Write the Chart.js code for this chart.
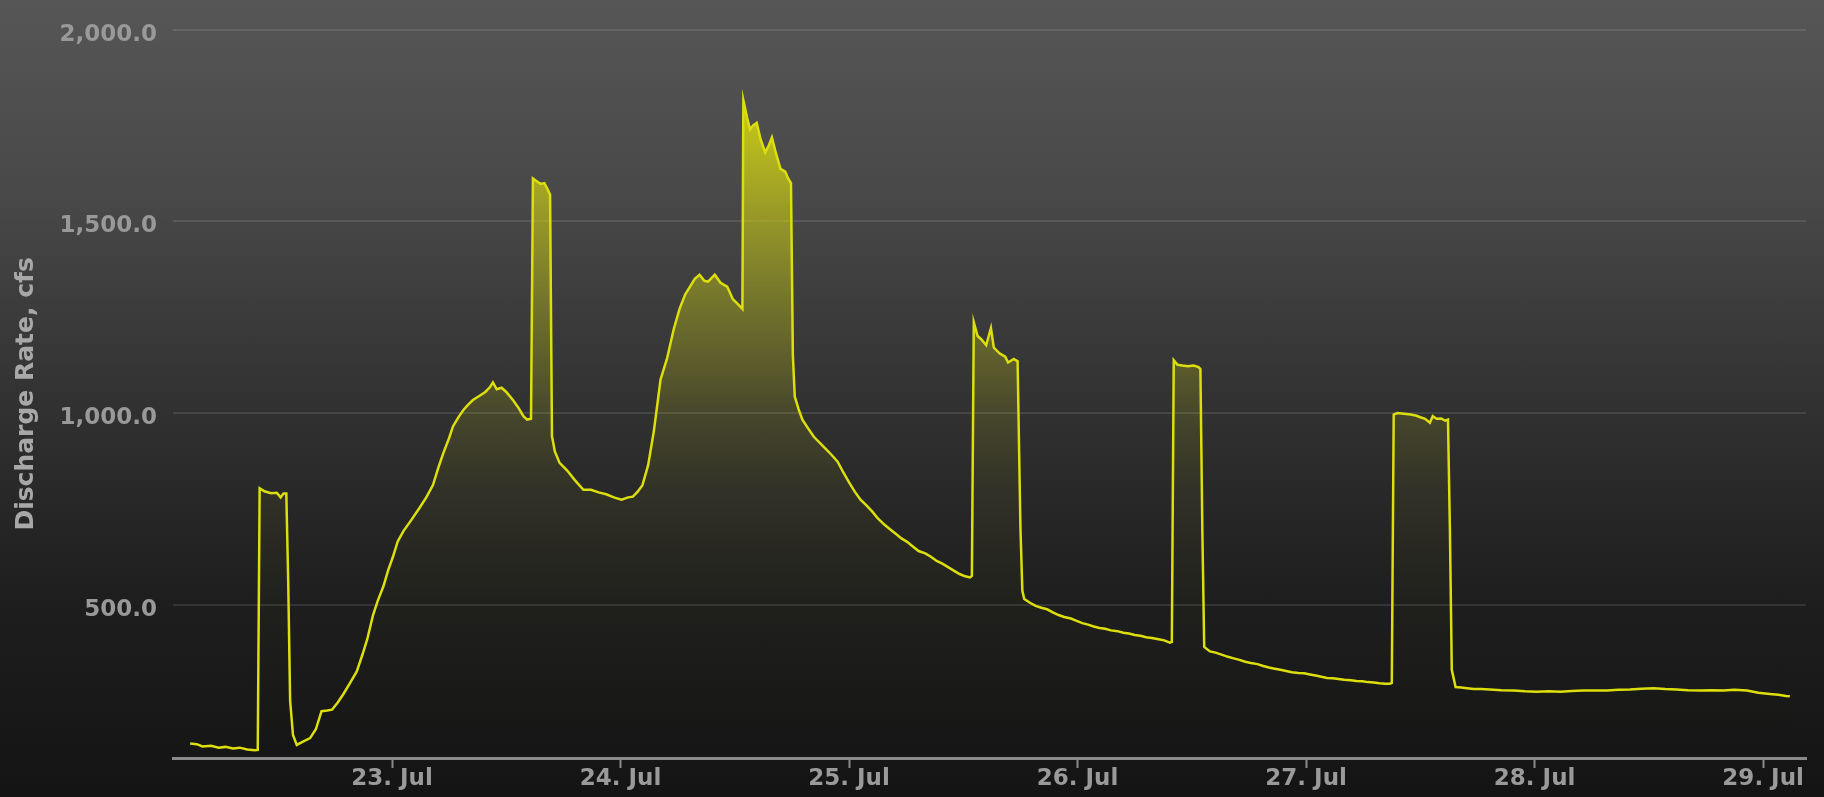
<!DOCTYPE html>
<html>
<head>
<meta charset="utf-8">
<script src="https://cdn.jsdelivr.net/npm/chart.js@4.4.1/dist/chart.umd.min.js"></script>
<style>
  html, body { margin: 0; padding: 0; }
  #wrap {
    width: 1824px; height: 797px; position: relative;
    background: linear-gradient(to bottom, rgb(86,86,86) 0%, rgb(72,72,72) 25%, rgb(50,50,50) 50%, rgb(30,30,30) 75%, rgb(20,20,20) 100%);
  }
</style>
</head>
<body>
<div id="wrap"><canvas id="chart"></canvas></div>
<script>
// hours since 22 Jul 00:00
const hours = [
  2.8, 3.5, 4.1, 5.0, 5.8, 6.5, 7.3, 8.0, 8.8, 9.6, 9.9, 10.1, 10.6, 11.3, 11.9, 12.3, 12.6, 12.9, 13.1, 13.3,
  13.6, 14.0, 14.6, 15.4, 16.0, 16.6, 17.2, 17.7, 18.3, 18.9, 19.6, 20.3, 20.9, 21.4, 22.0, 22.5, 23.1, 23.6, 24.1, 24.6,
  25.2, 26.0, 26.9, 27.6, 28.3, 28.9, 29.4, 30.0, 30.4, 31.0, 31.5, 32.0, 32.5, 33.2, 33.8, 34.3, 34.6, 35.0, 35.5, 36.0,
  36.7, 37.3, 37.8, 38.2, 38.6, 38.8, 39.2, 39.6, 40.0, 40.3, 40.6, 40.8, 41.1, 41.6, 42.4, 43.2, 44.1, 44.9, 45.7, 46.5,
  47.3, 48.1, 48.8, 49.3, 49.8, 50.3, 50.9, 51.5, 52.2, 52.9, 53.6, 54.2, 54.8, 55.3, 55.8, 56.3, 56.8, 57.2, 57.9, 58.5,
  59.2, 59.8, 60.3, 60.8, 60.9, 61.3, 61.6, 61.9, 62.3, 62.7, 63.2, 63.6, 63.9, 64.3, 64.8, 65.3, 65.6, 65.9, 66.1, 66.3,
  66.7, 67.1, 67.7, 68.3, 69.5, 70.2, 70.8, 71.4, 72.0, 72.6, 73.2, 73.8, 74.4, 75.0, 75.7, 76.3, 76.9, 77.5, 78.1, 78.7,
  79.3, 80.0, 80.6, 81.2, 81.8, 82.4, 83.0, 83.6, 84.2, 84.7, 84.9, 85.1, 85.5, 85.9, 86.4, 86.9, 87.2, 87.8, 88.4, 88.7,
  89.3, 89.7, 90.0, 90.2, 90.4, 91.0, 91.6, 92.2, 92.8, 93.4, 94.0, 94.6, 95.3, 95.9, 96.5, 97.1, 97.7, 98.3, 98.9, 99.5,
  100.2, 100.8, 101.4, 102.0, 102.6, 103.2, 103.8, 104.5, 105.1, 105.7, 105.9, 106.1, 106.5, 107.0, 107.6, 108.2, 108.7, 108.9, 109.1, 109.3,
  109.9, 110.5, 111.2, 111.8, 112.4, 113.0, 113.6, 114.2, 114.9, 115.5, 116.1, 116.7, 117.3, 117.9, 118.5, 119.2, 119.8, 120.4, 121.0, 121.6,
  122.2, 122.8, 123.4, 124.0, 124.7, 125.3, 125.9, 126.5, 127.1, 127.7, 128.3, 128.8, 129.0, 129.2, 129.6, 130.3, 131.0, 131.6, 132.0, 132.5,
  133.0, 133.3, 133.7, 134.2, 134.6, 134.9, 135.1, 135.3, 135.7, 136.3, 136.9, 137.6, 138.4, 139.3, 140.5, 141.8, 143.0, 144.2, 145.5, 146.7,
  147.9, 149.1, 150.3, 151.6, 152.8, 154.0, 155.2, 156.5, 157.7, 158.9, 160.1, 161.4, 162.6, 163.8, 165.0, 166.3, 167.5, 168.7, 169.6, 170.4,
  170.8
];

// discharge, cfs
const flow = [
  138, 136, 130, 132, 127, 129, 125, 127, 122, 120, 121, 804, 796, 791, 792, 780, 790, 790, 560, 250,
  160, 134, 142, 152, 175, 222, 224, 226, 245, 267, 296, 326, 370, 410, 472, 510, 548, 590, 625, 665,
  692, 720, 753, 780, 812, 860, 896, 935, 965, 990, 1008, 1022, 1034, 1045, 1055, 1068, 1080, 1062, 1066, 1055,
  1034, 1013, 992, 983, 985, 1612, 1605, 1598, 1600, 1586, 1570, 940, 900, 870, 850, 825, 800, 800, 793, 788,
  780, 774, 780, 782, 795, 812, 864, 953, 1087, 1144, 1220, 1272, 1310, 1330, 1350, 1361, 1345, 1343, 1361, 1340,
  1330, 1297, 1285, 1272, 1816, 1770, 1740, 1750, 1757, 1715, 1680, 1700, 1719, 1680, 1637, 1630, 1612, 1600, 1150, 1043,
  1010, 983, 960, 938, 908, 890, 873, 845, 819, 795, 774, 760, 744, 726, 709, 697, 685, 673, 664, 652,
  640, 634, 625, 614, 607, 598, 589, 580, 574, 571, 575, 1237, 1201, 1192, 1177, 1222, 1171, 1156, 1147, 1132,
  1141, 1135, 700, 536, 515, 505, 497, 492, 488, 480, 473, 468, 464, 458, 452, 448, 443, 439, 437, 433,
  431, 427, 425, 421, 419, 415, 413, 410, 407, 401, 403, 1138, 1126, 1124, 1122, 1124, 1120, 1115, 700, 390,
  378, 375, 369, 364, 360, 356, 351, 348, 345, 340, 336, 333, 330, 327, 324, 322, 321, 318, 315, 312,
  309, 308, 306, 304, 303, 301, 300, 298, 297, 295, 294, 294, 296, 996, 1000, 998, 996, 993, 989, 985,
  975, 992, 985, 986, 980, 983, 700, 330, 285, 284, 282, 280, 280, 279, 277, 276, 274, 273, 274, 273,
  275, 276, 276, 276, 278, 279, 281, 282, 280, 279, 277, 276, 277, 276, 278, 276, 270, 267, 265, 262,
  261
];

const dayTicks = [24, 48, 72, 96, 120, 144, 168];
const dayLabels = ['23. Jul', '24. Jul', '25. Jul', '26. Jul', '27. Jul', '28. Jul', '29. Jul'];
const yTicks = [500, 1000, 1500, 2000];

const points = hours.map((h, i) => ({ x: h, y: flow[i] }));

function areaFill(context) {
    const chart = context.chart;
    const area = chart.chartArea;
    if (!area) return null;
    const g = chart.ctx.createLinearGradient(0, area.top, 0, area.bottom);
    g.addColorStop(0, 'rgba(221,223,13,1)');
    g.addColorStop(0.1, 'rgba(221,223,13,0.85)');
    g.addColorStop(0.26, 'rgba(221,223,13,0.53)');
    g.addColorStop(0.37, 'rgba(221,223,13,0.35)');
    g.addColorStop(0.53, 'rgba(221,223,13,0.13)');
    g.addColorStop(0.63, 'rgba(221,223,13,0.05)');
    g.addColorStop(0.8, 'rgba(221,223,13,0.01)');
    g.addColorStop(1, 'rgba(221,223,13,0)');
    return g;
}

const labelFont = { family: 'DejaVu Sans', size: 23, weight: 'bold' };

new Chart(document.getElementById('chart'), {
    type: 'line',
    data: {
        datasets: [{
            label: 'Discharge',
            data: points,
            borderColor: '#DDDF0D',
            borderWidth: 2.5,
            backgroundColor: areaFill,
            fill: 'start',
            pointRadius: 0,
            tension: 0
        }]
    },
    options: {
        responsive: true,
        maintainAspectRatio: false,
        animation: false,
        layout: { padding: { top: 15, right: 18, left: 0, bottom: 0 } },
        plugins: { legend: { display: false }, tooltip: { enabled: false } },
        scales: {
            x: {
                type: 'linear',
                min: 1,
                max: 172.5,
                afterFit: (s) => { s.height = 39; },
                afterBuildTicks: (s) => { s.ticks = dayTicks.map(v => ({ value: v })); },
                grid: { drawOnChartArea: false, drawTicks: true, tickLength: 10, tickColor: '#8a8a8a', tickWidth: 2 },
                border: { display: true, color: '#8a8a8a', width: 3 },
                ticks: {
                    autoSkip: false,
                    maxRotation: 0,
                    padding: -3,
                    color: '#9a9a9a',
                    font: labelFont,
                    callback: (v, i) => dayLabels[i]
                }
            },
            y: {
                min: 100,
                max: 2000,
                afterFit: (s) => { s.width = 173; },
                afterBuildTicks: (s) => { s.ticks = yTicks.map(v => ({ value: v })); },
                grid: { color: 'rgba(255,255,255,0.1)', lineWidth: 2, drawTicks: false },
                border: { display: false },
                ticks: {
                    padding: 16,
                    labelOffset: 5,
                    color: '#999999',
                    font: labelFont,
                    callback: (v) => v.toLocaleString('en-US', { minimumFractionDigits: 1, maximumFractionDigits: 1 })
                },
                title: {
                    display: true,
                    text: 'Discharge Rate, cfs',
                    color: '#a8a8a8',
                    font: { family: 'DejaVu Sans', size: 25, weight: 'bold' },
                    padding: { top: 11, bottom: 0 }
                }
            }
        }
    }
});
</script>
</body>
</html>
